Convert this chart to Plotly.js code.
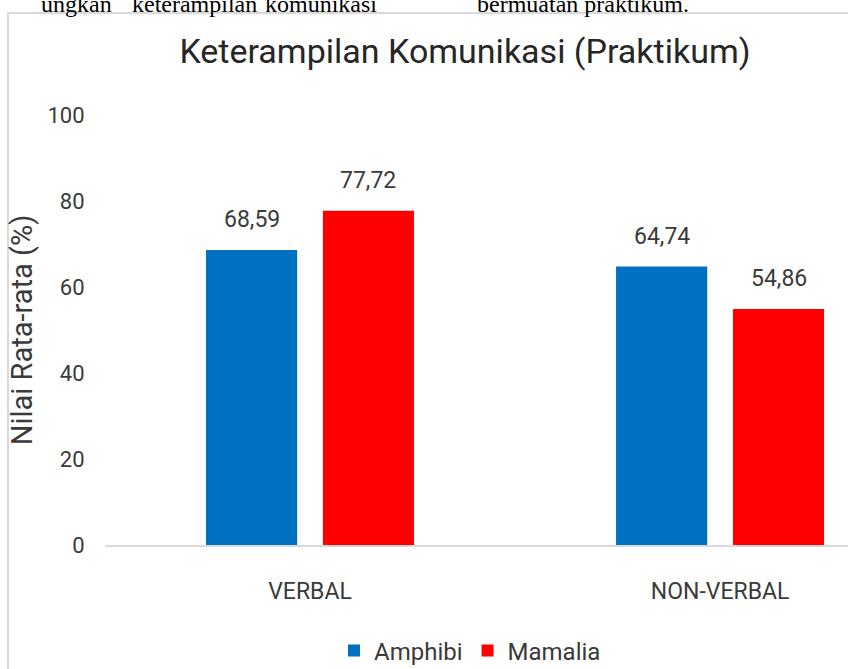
<!DOCTYPE html>
<html>
<head>
<meta charset="utf-8">
<script src="https://cdn.plot.ly/plotly-3.0.1.min.js"></script>
<style>html,body{margin:0;padding:0;background:#fff;}#chart{width:848px;height:669px;}</style>
</head>
<body>
<div id="chart"></div>
<script>
const categories = ["VERBAL", "NON-VERBAL"];
const amphibi = [68.59, 64.74];
const mamalia = [77.72, 54.86];
const seriesNames = ["Amphibi", "Mamalia"];
const yTicks = [0, 20, 40, 60, 80, 100];
const titleText = "Keterampilan Komunikasi (Praktikum)";
const yTitleText = "Nilai Rata-rata (%)";
const topWords = ["ungkan", "keterampilan", "komunikasi", "bermuatan praktikum."];

const W = 848, H = 669;
const mL = 105, mR = 0, mT = 115, mB = 124;
const plotW = W - mL - mR, plotH = H - mT - mB;
const px = x => (x - mL) / plotW;
const py = y => (H - mB - y) / plotH;

const sans = "Roboto, Liberation Sans, Arial, sans-serif";
const textColor = "#3a3a3a";
const bargap = 0.43, bargroupgap = 0.22;
const catPx = plotW / 1.812;
const slotShift = (1 - bargap) / 2 * catPx / 2;

const traces = [
  {type: "bar", name: seriesNames[0], x: categories, y: amphibi, marker: {color: "#0070C0"}, hoverinfo: "x+y"},
  {type: "bar", name: seriesNames[1], x: categories, y: mamalia, marker: {color: "#FF0000"}, hoverinfo: "x+y"}
];

const fmt = v => v.toFixed(2).replace(".", ",");
const annotations = [];
[amphibi, mamalia].forEach((vals, si) => {
  vals.forEach((v, ci) => {
    annotations.push({
      xref: "x", yref: "y", x: categories[ci], y: v,
      xshift: (si === 0 ? -1 : 1) * slotShift, yshift: 15,
      text: fmt(v), showarrow: false, yanchor: "bottom", xanchor: "center",
      font: {family: sans, size: 23, color: textColor}
    });
  });
});
const serif = {family: "Liberation Serif, Times New Roman, serif", size: 24, color: "#000"};
const wordPos = [[114, "right"], [130, "left"], [379, "right"], [475, "left"]];
topWords.forEach((w, i) => {
  annotations.push({
    xref: "paper", yref: "paper", x: px(wordPos[i][0]), y: py(19),
    xanchor: wordPos[i][1], yanchor: "bottom",
    text: w, showarrow: false, font: serif
  });
});

const layout = {
  width: W, height: H,
  margin: {l: mL, r: mR, t: mT, b: mB, pad: 0, autoexpand: false},
  paper_bgcolor: "#ffffff", plot_bgcolor: "#ffffff",
  separators: ",.",
  barmode: "group", bargap: bargap, bargroupgap: bargroupgap,
  showlegend: true,
  title: {
    text: titleText, xref: "paper", x: px(465), xanchor: "center",
    yref: "container", y: 1 - 51 / H, yanchor: "middle",
    font: {family: sans, size: 34, color: "#262626"}
  },
  xaxis: {
    type: "category", range: [-0.5, 1.312], fixedrange: true,
    showline: true, linecolor: "#d9d9d9", linewidth: 2,
    showgrid: false, zeroline: false,
    ticks: "outside", ticklen: 24, tickcolor: "rgba(0,0,0,0)",
    tickfont: {family: sans, size: 23, color: textColor}
  },
  yaxis: {
    range: [0, 100], tickvals: yTicks, fixedrange: true,
    showline: false, showgrid: false, zeroline: false,
    ticks: "outside", ticklen: 15, tickcolor: "rgba(0,0,0,0)",
    tickfont: {family: sans, size: 22, color: textColor},
    title: {text: yTitleText, standoff: 6, font: {family: sans, size: 29, color: textColor}}
  },
  legend: {
    orientation: "h", xref: "paper", yref: "paper",
    x: px(470), xanchor: "center", y: py(651), yanchor: "middle",
    font: {family: sans, size: 24, color: textColor},
    itemwidth: 30, traceorder: "normal"
  },
  shapes: [{
    type: "rect", xref: "paper", yref: "paper",
    x0: px(8), x1: px(W + 20), y0: py(H + 20), y1: py(13),
    line: {color: "#d9d9d9", width: 2}, fillcolor: "rgba(0,0,0,0)", layer: "below"
  }],
  annotations: annotations
};

Plotly.newPlot("chart", traces, layout, {displayModeBar: false, staticPlot: true});
</script>
</body>
</html>
